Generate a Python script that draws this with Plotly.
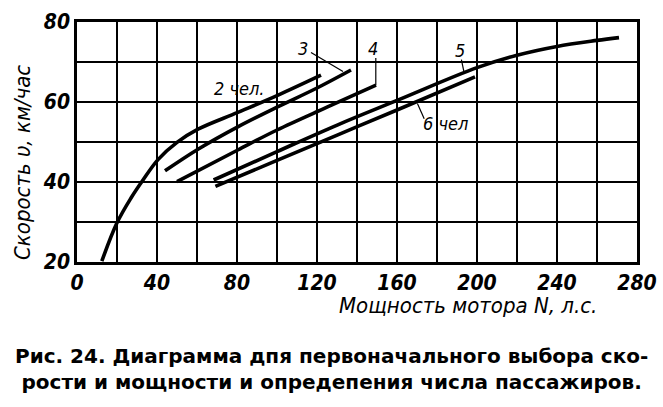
import plotly.graph_objects as go

# ---- data ----
curve2_x = [12.4, 20.0, 27.0, 33.0, 40.5, 50.0, 60.5, 80.4, 100.0, 122.0]
curve2_y = [20.2, 29.8, 36.0, 40.5, 45.6, 49.9, 53.2, 57.4, 61.6, 66.7]

curve3_x = [44.0, 60.5, 80.4, 100.0, 120.0, 137.0]
curve3_y = [42.8, 48.2, 53.8, 58.7, 63.5, 68.0]

curve4_x = [50.0, 80.4, 100.0, 125.0, 149.5]
curve4_y = [40.1, 48.0, 53.0, 58.7, 64.2]

curve5_x = [68.3, 100.0, 130.4, 160.0, 200.0, 220.0, 240.0, 260.0, 271.0]
curve5_y = [40.5, 47.6, 54.3, 60.4, 68.6, 71.7, 73.9, 75.4, 76.1]

curve6_x = [69.2, 100.0, 130.4, 160.0, 199.0]
curve6_y = [38.9, 45.4, 51.8, 58.0, 66.3]

x_tick_vals = [0, 40, 80, 120, 160, 200, 240, 280]
x_tick_text = ["0", "40", "80", "120", "160", "200", "240", "280"]
y_tick_vals = [20, 40, 60, 80]
y_tick_text = ["20", "40", "60", "80"]

curve_labels = ["2 чел.", "3", "4", "5", "6 чел"]
label_x = [81, 113, 148, 191.5, 184]
label_y = [63.5, 73.4, 73.4, 73.0, 54.6]

leader3_x = [117, 133]
leader3_y = [72.4, 67.6]
leader4_x = [149.4, 149.4]
leader4_y = [71.0, 64.2]
leader5_x = [192.2, 193.6]
leader5_y = [70.6, 67.2]
leader6_x = [173.6, 170.2]
leader6_y = [55.8, 59.6]

x_title = "Мощность мотора N, л.с."
y_title = "Скорость υ, км/час"
caption = ("Рис. 24. Диаграмма дпя первоначального выбора ско-<br>"
           "рости и мощности и опредепения числа пассажиров.")

FONT_IT = "DejaVu Sans Condensed, DejaVu Sans"

fig = go.Figure()
for xs, ys in [(curve2_x, curve2_y), (curve3_x, curve3_y), (curve4_x, curve4_y),
               (curve5_x, curve5_y), (curve6_x, curve6_y)]:
    fig.add_trace(go.Scatter(x=xs, y=ys, mode="lines",
                             line=dict(color="black", width=3.6, shape="spline", smoothing=1.0),
                             hoverinfo="skip", showlegend=False))
for xs, ys in [(leader3_x, leader3_y), (leader4_x, leader4_y),
               (leader5_x, leader5_y), (leader6_x, leader6_y)]:
    fig.add_trace(go.Scatter(x=xs, y=ys, mode="lines",
                             line=dict(color="black", width=1.2),
                             hoverinfo="skip", showlegend=False))

annotations = []
for t, lx, ly in zip(curve_labels, label_x, label_y):
    annotations.append(dict(x=lx, y=ly, xref="x", yref="y", text="<i>%s</i>" % t,
                            showarrow=False, font=dict(family=FONT_IT, size=18, color="black")))

W, H = 663, 407
L, R, T, B = 77, 26, 22, 145
pw, ph = W - L - R, H - T - B

def paper_note(px, py, text, font, angle=0):
    return dict(x=(px - L) / pw, y=(H - B - py) / ph, xref="paper", yref="paper",
                xanchor="center", yanchor="middle", text=text, textangle=angle,
                showarrow=False, align="center", font=font)

annotations.append(paper_note(468, 305, "<i>%s</i>" % x_title,
                              dict(family=FONT_IT, size=22, color="black")))
annotations.append(paper_note(22, 163, "<i>%s</i>" % y_title,
                              dict(family=FONT_IT, size=22, color="black"), angle=-90))
annotations.append(paper_note(331, 369, "<b>%s</b>" % caption,
                              dict(family="DejaVu Sans", size=20, color="black")))

tick_font = dict(family=FONT_IT, size=21, color="black", style="italic", weight="bold")

fig.update_layout(
    width=W, height=H,
    margin=dict(l=L, r=R, t=T, b=B, autoexpand=False),
    paper_bgcolor="white", plot_bgcolor="white",
    annotations=annotations,
    xaxis=dict(range=[0, 280], tickvals=x_tick_vals, ticktext=x_tick_text,
               showgrid=True, gridcolor="black", gridwidth=2,
               minor=dict(dtick=20, showgrid=True, gridcolor="black", gridwidth=2),
               showline=True, mirror=True, linecolor="black", linewidth=2.5,
               zeroline=False, ticks="", automargin=False, tickfont=tick_font),
    yaxis=dict(range=[20, 80], tickvals=y_tick_vals, ticktext=y_tick_text,
               showgrid=True, gridcolor="black", gridwidth=2,
               minor=dict(dtick=10, showgrid=True, gridcolor="black", gridwidth=2),
               showline=True, mirror=True, linecolor="black", linewidth=2.5,
               zeroline=False, ticks="", automargin=False, tickfont=tick_font),
)

fig.write_html("out.html", config={"displayModeBar": False},
               post_script="document.body.style.margin='0';")
